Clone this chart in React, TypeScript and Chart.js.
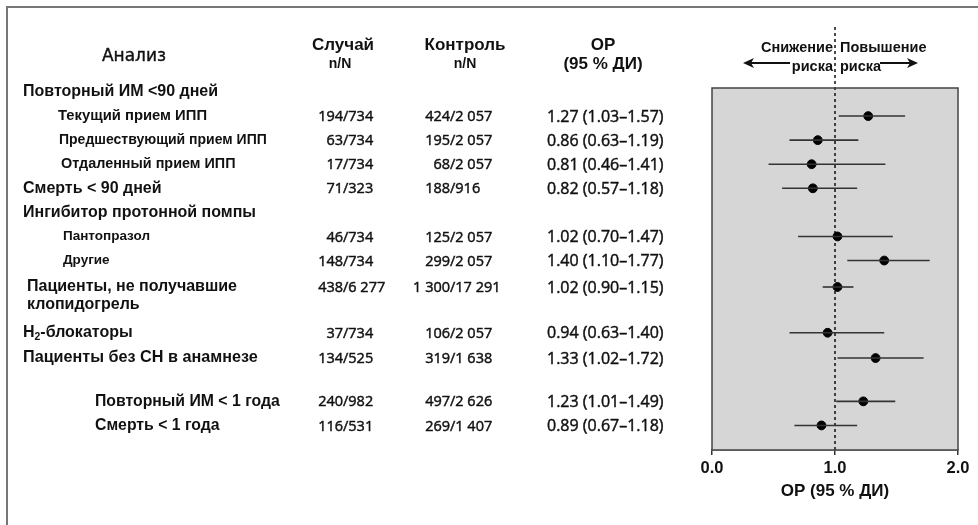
import React, { useEffect, useRef } from "react";
import { Chart, registerables } from "chart.js";

Chart.register(...registerables);

// ---------- data ----------
const rowLabels = [
  "Повторный ИМ <90 дней",
  "Текущий прием ИПП",
  "Предшествующий прием ИПП",
  "Отдаленный прием ИПП",
  "Смерть < 90 дней",
  "Ингибитор протонной помпы",
  "Пантопразол",
  "Другие",
  "Пациенты, не получавшие\nклопидогрель",
  "H₂-блокаторы",
  "Пациенты без СН в анамнезе",
  "Повторный ИМ < 1 года",
  "Смерть < 1 года",
];
const caseCounts = ["", "194/734", "63/734", "17/734", "71/323", "", "46/734", "148/734", "438/6 277", "37/734", "134/525", "240/982", "116/531"];
const controlCounts = ["", "424/2 057", "195/2 057", "68/2 057", "188/916", "", "125/2 057", "299/2 057", "1 300/17 291", "106/2 057", "319/1 638", "497/2 626", "269/1 407"];
const orValues: (number | null)[] = [null, 1.27, 0.86, 0.81, 0.82, null, 1.02, 1.4, 1.02, 0.94, 1.33, 1.23, 0.89];
const ciLow: (number | null)[] = [null, 1.03, 0.63, 0.46, 0.57, null, 0.7, 1.1, 0.9, 0.63, 1.02, 1.01, 0.67];
const ciHigh: (number | null)[] = [null, 1.57, 1.19, 1.41, 1.18, null, 1.47, 1.77, 1.15, 1.4, 1.72, 1.49, 1.18];
const xTicks = [0, 1, 2];
const refValue = 1;

// ---------- layout (not data) ----------
const rowSlot = [0, 1, 2, 3, 4, 5, 6, 7, 8.1, 10, 11.05, 12.85, 13.85];
const labelX = [23, 58, 59, 61, 23, 23, 63, 63, 27, 23, 23, 95, 95];
const labelSize = [16, 14.8, 14, 14.4, 16, 16, 13.5, 13.5, 16, 16, 16.2, 15.8, 15.8];

const LAB = '"Liberation Sans", Arial, sans-serif';
const HEAD = '"DejaVu Sans", "Liberation Sans", sans-serif';
const SANS = '"Liberation Sans", Arial, sans-serif';
const NUM = '"Open Sans", "Liberation Sans", sans-serif';

function fmt(v: number | null) {
  return v == null ? "" : v.toFixed(2);
}

function heavyText(ctx: CanvasRenderingContext2D, t: string, x: number, y: number) {
  ctx.fillText(t, x, y);
  ctx.strokeText(t, x, y);
}

function drawLabel(ctx: CanvasRenderingContext2D, text: string, x: number, y: number, size: number) {
  const lines = text.split("\n");
  lines.forEach((ln, i) => {
    const yy = y + i * (size + 2);
    if (ln.includes("₂")) {
      const [a, b] = ln.split("₂");
      ctx.font = `bold ${size}px ${LAB}`;
      ctx.fillText(a, x, yy);
      let cx = x + ctx.measureText(a).width;
      ctx.font = `bold ${size * 0.65}px ${LAB}`;
      ctx.fillText("2", cx, yy + 4);
      cx += ctx.measureText("2").width;
      ctx.font = `bold ${size}px ${LAB}`;
      ctx.fillText(b, cx, yy);
    } else {
      ctx.font = `bold ${size}px ${LAB}`;
      ctx.fillText(ln, x, yy);
    }
  });
}

function drawSlashAligned(ctx: CanvasRenderingContext2D, text: string, slashX: number, y: number) {
  if (!text) return;
  const i = text.indexOf("/");
  const left = text.slice(0, i);
  const right = text.slice(i);
  ctx.textAlign = "right";
  heavyText(ctx, left, slashX, y);
  ctx.textAlign = "left";
  heavyText(ctx, right, slashX, y);
}

const forestPlugin = {
  id: "forest",
  beforeDatasetsDraw(chart: any) {
    const { ctx, chartArea: a, scales } = chart;
    const xs = scales.x;
    ctx.save();
    ctx.fillStyle = "#d6d6d6";
    ctx.fillRect(a.left, a.top, a.right - a.left, a.bottom - a.top);
    const rx = xs.getPixelForValue(refValue);
    ctx.strokeStyle = "#111";
    ctx.lineWidth = 1.5;
    ctx.setLineDash([3, 3]);
    ctx.beginPath();
    ctx.moveTo(rx, 27);
    ctx.lineTo(rx, a.bottom);
    ctx.stroke();
    ctx.setLineDash([]);
    ctx.strokeStyle = "#444";
    ctx.lineWidth = 1.5;
    ctx.strokeRect(a.left, a.top, a.right - a.left, a.bottom - a.top);
    ctx.restore();
  },
  afterDraw(chart: any) {
    const { ctx, chartArea: a, scales } = chart;
    const ys = scales.y;
    const xs = scales.x;
    ctx.save();
    // frame
    ctx.strokeStyle = "#777";
    ctx.lineWidth = 2;
    ctx.beginPath();
    ctx.moveTo(978, 7);
    ctx.lineTo(7, 7);
    ctx.lineTo(7, 525);
    ctx.stroke();

    ctx.fillStyle = "#111";
    ctx.strokeStyle = "#111";
    ctx.textBaseline = "middle";
    // headers
    ctx.textAlign = "center";
    ctx.font = `17px ${HEAD}`;
    ctx.lineWidth = 0.4;
    heavyText(ctx, "Анализ", 134, 57);
    ctx.font = `bold 17px ${SANS}`;
    ctx.fillText("Случай", 343, 45);
    ctx.fillText("Контроль", 465, 45);
    ctx.fillText("ОР", 603, 45);
    ctx.fillText("(95 % ДИ)", 603, 64);
    ctx.font = `bold 14px ${SANS}`;
    ctx.fillText("n/N", 340, 64);
    ctx.fillText("n/N", 465, 64);

    // risk header
    const rx = xs.getPixelForValue(refValue);
    ctx.font = `bold 14.5px ${SANS}`;
    ctx.textAlign = "right";
    ctx.fillText("Снижение", rx - 2, 48);
    ctx.fillText("риска", rx - 2, 67);
    ctx.textAlign = "left";
    ctx.fillText("Повышение", rx + 5, 48);
    ctx.fillText("риска", rx + 5, 67);
    ctx.lineWidth = 2;
    ctx.beginPath();
    ctx.moveTo(746, 63);
    ctx.lineTo(790, 63);
    ctx.moveTo(880, 63);
    ctx.lineTo(914, 63);
    ctx.stroke();
    ctx.beginPath();
    ctx.moveTo(743, 63);
    ctx.lineTo(754, 58);
    ctx.lineTo(751, 63);
    ctx.lineTo(754, 68);
    ctx.closePath();
    ctx.fill();
    ctx.beginPath();
    ctx.moveTo(918, 63);
    ctx.lineTo(907, 58);
    ctx.lineTo(910, 63);
    ctx.lineTo(907, 68);
    ctx.closePath();
    ctx.fill();

    // rows
    ctx.lineWidth = 0.45;
    rowLabels.forEach((lab, i) => {
      const y = ys.getPixelForValue(rowSlot[i]);
      ctx.textAlign = "left";
      drawLabel(ctx, lab, labelX[i], y, labelSize[i]);
      ctx.font = `14.5px ${NUM}`;
      drawSlashAligned(ctx, caseCounts[i], 343, y + 1);
      drawSlashAligned(ctx, controlCounts[i], 450, y + 1);
      if (orValues[i] != null) {
        ctx.textAlign = "left";
        ctx.font = `16px ${NUM}`;
        heavyText(ctx, `${fmt(orValues[i])} (${fmt(ciLow[i])}–${fmt(ciHigh[i])})`, 547, y + 1);
      }
    });

    // axis title
    ctx.textAlign = "center";
    ctx.font = `bold 17px ${SANS}`;
    ctx.fillText("ОР (95 % ДИ)", (a.left + a.right) / 2, 491);
    ctx.restore();
  },
};

export default function App() {
  const ref = useRef<HTMLCanvasElement | null>(null);
  useEffect(() => {
    document.body.style.margin = "0";
    const canvas = ref.current!;
    const idx = rowLabels.map((_, i) => i).filter((i) => orValues[i] != null);
    const ciSets = idx.map((i) => ({
      type: "line" as const,
      data: [
        { x: ciLow[i] as number, y: rowSlot[i] },
        { x: ciHigh[i] as number, y: rowSlot[i] },
      ],
      borderColor: "#333",
      borderWidth: 1.6,
      pointRadius: 0,
      showLine: true,
      fill: false,
    }));
    const pts = {
      type: "scatter" as const,
      data: idx.map((i) => ({ x: orValues[i] as number, y: rowSlot[i] })),
      backgroundColor: "#000",
      borderColor: "#000",
      pointRadius: 4.4,
    };
    const chart = new Chart(canvas, {
      type: "scatter",
      data: { datasets: [...ciSets, pts] as any },
      options: {
        animation: false,
        responsive: false,
        maintainAspectRatio: false,
        layout: { padding: { left: 712, right: 20, top: 88, bottom: 0 } },
        plugins: { legend: { display: false }, tooltip: { enabled: false } },
        scales: {
          x: {
            type: "linear",
            min: 0,
            max: 2,
            afterBuildTicks: (s: any) => {
              s.ticks = xTicks.map((v) => ({ value: v }));
            },
            afterFit: (s: any) => {
              s.height = 75;
            },
            ticks: {
              callback: (v: any) => Number(v).toFixed(1),
              font: { family: SANS, size: 16.5, weight: "bold" },
              color: "#111",
              padding: 4,
              maxRotation: 0,
            },
            grid: { display: true, drawOnChartArea: false, drawTicks: true, tickLength: 5, color: "#333", lineWidth: 1.5 },
            border: { display: true, color: "#444", width: 1.5 },
          },
          y: {
            type: "linear",
            display: false,
            min: -0.166,
            max: 14.87,
            reverse: true,
          },
        },
      },
      plugins: [forestPlugin],
    });
    return () => chart.destroy();
  }, []);
  return <canvas ref={ref} width={978} height={525} style={{ display: "block", background: "#fff" }} />;
}
